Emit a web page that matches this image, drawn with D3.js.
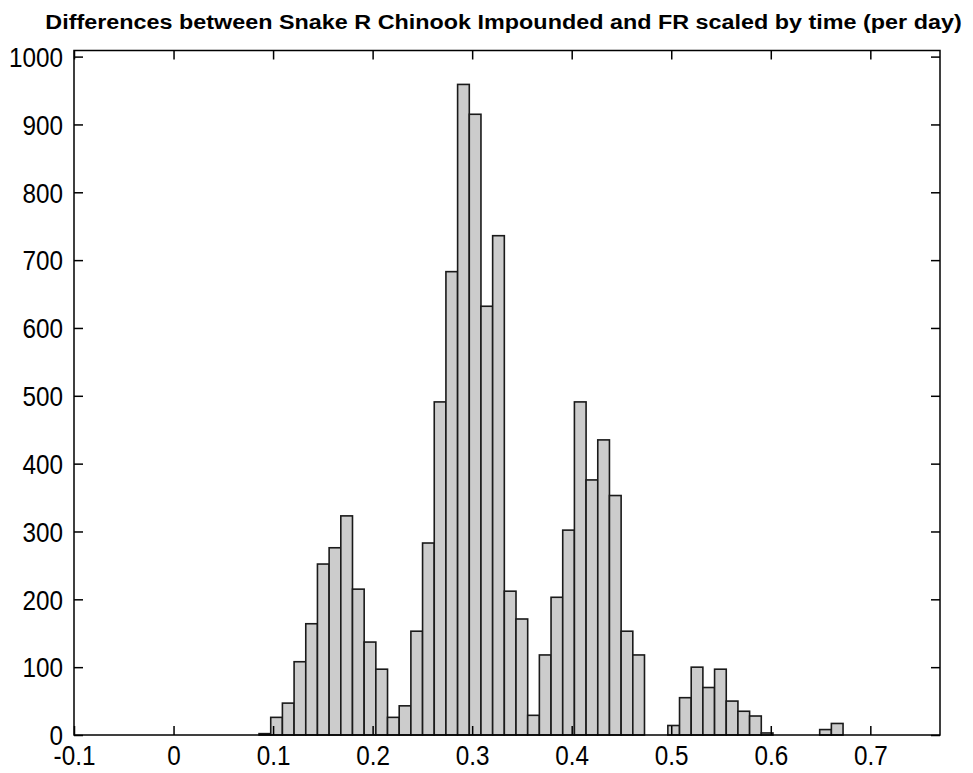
<!DOCTYPE html>
<html><head><meta charset="utf-8">
<script src="https://cdn.jsdelivr.net/npm/d3@7"></script>
<style>body{margin:0;background:#fff}</style>
</head><body>
<svg id="c" width="973" height="773"></svg>
<script>
const title = "Differences between Snake R Chinook Impounded and FR scaled by time (per day)";
const binLo = 0.0859, binHi = 0.6726;
const counts = [2,26,47,108,164,252,276,323,215,137,97,26,43,153,283,491,683,959,915,632,736,212,171,29,118,203,302,491,376,435,353,153,118,0,0,14,55,100,70,97,50,35,28,3,0,0,0,0,8,17];
const xTicks = [-0.1,0,0.1,0.2,0.3,0.4,0.5,0.6,0.7];
const xTickLabels = ["-0.1","0","0.1","0.2","0.3","0.4","0.5","0.6","0.7"];
const yTicks = [0,100,200,300,400,500,600,700,800,900,1000];
const xDomain = [-0.1, 0.77], yDomain = [0, 1009];

const L = 74, R = 940, T = 50.5, B = 735;
const svg = d3.select("#c");
const x = d3.scaleLinear().domain(xDomain).range([L, R]);
const y = d3.scaleLinear().domain(yDomain).range([B, T]);
const n = counts.length;
const bw = (binHi - binLo) / n;
const bins = counts.map((c, i) => ({x0: binLo + i * bw, x1: binLo + (i + 1) * bw, c}));

svg.append("rect").attr("x",0).attr("y",0).attr("width",973).attr("height",773).attr("fill","#fff");

svg.append("g").selectAll("rect").data(bins.filter(d => d.c > 0)).join("rect")
  .attr("x", d => x(d.x0)).attr("width", d => x(d.x1) - x(d.x0))
  .attr("y", d => y(d.c)).attr("height", d => y(0) - y(d.c))
  .attr("fill", "#cccccc").attr("stroke", "#1a1a1a").attr("stroke-width", 1.6);

const font = "'Liberation Sans', Arial, sans-serif";
const tl = 9, fs = 27, sx = 0.9;
const axB = svg.append("g").attr("transform", `translate(0,${B})`)
  .call(d3.axisBottom(x).tickValues(xTicks).tickSizeInner(-tl).tickSizeOuter(0)
    .tickFormat((d, i) => xTickLabels[i]));
const axT = svg.append("g").attr("transform", `translate(0,${T})`)
  .call(d3.axisTop(x).tickValues(xTicks).tickSizeInner(-tl).tickSizeOuter(0).tickFormat(""));
const axL = svg.append("g").attr("transform", `translate(${L},0)`)
  .call(d3.axisLeft(y).tickValues(yTicks).tickSizeInner(-tl).tickSizeOuter(0).tickFormat(d => String(d)));
const axR = svg.append("g").attr("transform", `translate(${R},0)`)
  .call(d3.axisRight(y).tickValues(yTicks).tickSizeInner(-tl).tickSizeOuter(0).tickFormat(""));
[axB, axT, axL, axR].forEach(a => {
  a.select(".domain").remove();
  a.selectAll(".tick line").attr("stroke", "#000").attr("stroke-width", 1.5);
  a.selectAll("text").attr("font-family", font).attr("font-size", fs).attr("fill", "#000")
    .attr("transform", `scale(${sx},1)`);
});
axB.selectAll("text").attr("dy", null).attr("y", 30);
axL.selectAll("text").attr("x", -11 / sx).attr("dy", "0.36em");
svg.append("rect").attr("x", L).attr("y", T).attr("width", R - L).attr("height", B - T)
  .attr("fill", "none").attr("stroke", "#000").attr("stroke-width", 1.5);

const t = svg.append("text").attr("text-anchor", "middle")
  .attr("font-family", font).attr("font-weight", "bold").attr("font-size", 21).attr("fill", "#000").text(title);
const w = t.node().getComputedTextLength();
t.attr("transform", `translate(503.5,29.3) scale(${917 / w},1)`);
</script>
</body></html>
